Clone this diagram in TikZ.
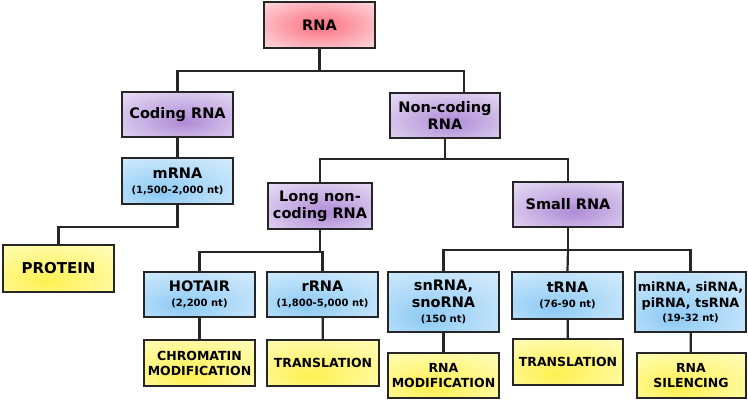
\documentclass[tikz,border=0pt]{standalone}
\usepackage{fontspec}
\setmainfont{DejaVu Sans}
\usetikzlibrary{shadings}

\definecolor{rnain}{RGB}{250,110,125}
\definecolor{rnaout}{RGB}{255,225,230}
\definecolor{clsin}{RGB}{175,138,214}
\definecolor{clsout}{RGB}{236,229,247}
\definecolor{seqin}{RGB}{140,202,244}
\definecolor{seqout}{RGB}{224,241,254}
\definecolor{rolein}{RGB}{255,240,80}
\definecolor{roleout}{RGB}{255,255,205}

% soft glows, wider than the default radial shading
\pgfdeclareradialshading{rnaglow}{\pgfpoint{0bp}{0bp}}{color(0bp)=(rnain); color(38bp)=(rnaout); color(70bp)=(rnaout)}
\pgfdeclareradialshading{clsglow}{\pgfpoint{3bp}{-8bp}}{color(0bp)=(clsin); color(42bp)=(clsout); color(70bp)=(clsout)}
\pgfdeclareradialshading{seqglow}{\pgfpoint{-8bp}{-14bp}}{color(0bp)=(seqin); color(48bp)=(seqout); color(75bp)=(seqout)}
\pgfdeclareradialshading{roleglow}{\pgfpoint{-6bp}{-14bp}}{color(0bp)=(rolein); color(48bp)=(roleout); color(75bp)=(roleout)}

\tikzset{
  box/.style={draw=black!85, line width=2pt, align=center, inner sep=2pt,
              font=\bfseries\fontsize{14.5}{17}\selectfont},
  rnabox/.style={box, shading=rnaglow},
  classbox/.style={box, shading=clsglow},
  seqbox/.style={box, shading=seqglow},
  rolebox/.style={box, shading=roleglow,
              font=\bfseries\fontsize{12.5}{15}\selectfont},
  link/.style={line width=2.2pt, black!85}
}
\newcommand{\ntlen}[1]{\\[-2pt]{\fontsize{10}{12}\selectfont #1}}

\begin{document}
\begin{tikzpicture}[x=1pt,y=-1pt]
\useasboundingbox (0,0) rectangle (748,403);

% top
\node[rnabox, minimum width=111pt, minimum height=46pt] (rna) at (319.5,25) {RNA};
\node[classbox, minimum width=111pt, minimum height=45pt] (coding) at (177.5,114.5) {Coding RNA};
\node[classbox, minimum width=110pt, minimum height=45pt] (noncoding) at (445,115.5) {Non-coding\\RNA};

% coding branch
\node[seqbox, minimum width=111pt, minimum height=46pt] (mrna) at (177.5,181) {mRNA\ntlen{(1,500-2,000 nt)}};
\node[rolebox, minimum width=111pt, minimum height=47pt, font=\bfseries\fontsize{15}{17}\selectfont] (protein) at (58.5,268.5) {PROTEIN};

% non-coding branch
\node[classbox, minimum width=104pt, minimum height=46pt] (lnc) at (320,206) {Long non-\\coding RNA};
\node[classbox, minimum width=110pt, minimum height=45pt] (small) at (568,204.5) {Small RNA};

\node[seqbox, minimum width=111pt, minimum height=45pt] (hotair) at (199.5,294.5) {HOTAIR\ntlen{(2,200 nt)}};
\node[seqbox, minimum width=111pt, minimum height=45pt] (rrna) at (322.5,294.5) {rRNA\ntlen{(1,800-5,000 nt)}};
\node[seqbox, minimum width=111pt, minimum height=60pt] (snrna) at (443.5,302) {snRNA,\\snoRNA\ntlen{(150 nt)}};
\node[seqbox, minimum width=111pt, minimum height=47pt] (trna) at (567.5,295.5) {tRNA\ntlen{(76-90 nt)}};
\node[seqbox, minimum width=111pt, minimum height=60pt, font=\bfseries\fontsize{12.8}{16}\selectfont] (mirna) at (690.5,302) {miRNA, siRNA,\\piRNA, tsRNA\ntlen{(19-32 nt)}};

\node[rolebox, minimum width=111pt, minimum height=46pt] (chrom) at (199.5,363) {CHROMATIN\\MODIFICATION};
\node[rolebox, minimum width=112pt, minimum height=46pt] (transl1) at (323,363) {TRANSLATION};
\node[rolebox, minimum width=111pt, minimum height=45pt] (rnamod) at (443.5,375.5) {RNA\\MODIFICATION};
\node[rolebox, minimum width=110pt, minimum height=46pt] (transl2) at (568,362) {TRANSLATION};
\node[rolebox, minimum width=109pt, minimum height=45pt] (silenc) at (691,375.5) {RNA\\SILENCING};

% connectors
\draw[link] (rna.south) -- ++(0,22) coordinate (rnaj);
\draw[link] (coding.north) |- (rnaj) -| ([xshift=19pt]noncoding.north);
\draw[link] (coding) -- (mrna);
\draw[link] (mrna.south) -- ++(0,22) -| (protein.north);

\draw[link] (noncoding.south) -- ++(0,20) coordinate (ncj);
\draw[link] (lnc.north) |- (ncj) -| (small.north);

\draw[link] (lnc.south) -- ++(0,22) coordinate (lncj);
\draw[link] (hotair.north) |- (lncj) -| (rrna.north);

\draw[link] (small.south) -- ++(0,22) coordinate (smj);
\draw[link] (snrna.north) |- (smj) -| (mirna.north);
\draw[link] (smj) -- (trna.north);

\draw[link] (hotair) -- (chrom);
\draw[link] (rrna) -- (transl1);
\draw[link] (snrna) -- (rnamod);
\draw[link] (trna) -- (transl2);
\draw[link] (mirna) -- (silenc);

\end{tikzpicture}
\end{document}
